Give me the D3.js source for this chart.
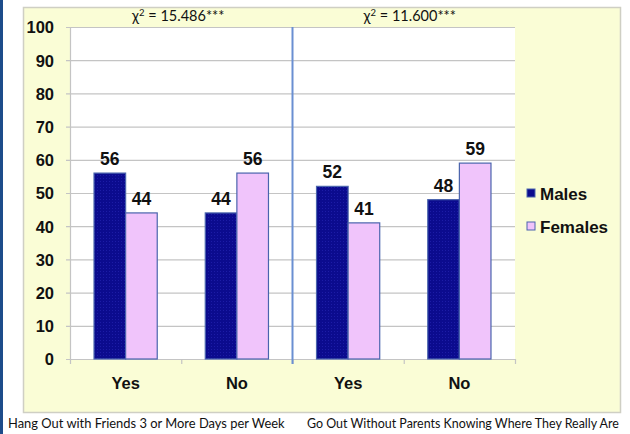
<!DOCTYPE html>
<html><head><meta charset="utf-8">
<script src="https://cdn.jsdelivr.net/npm/d3@7"></script>
<style>html,body{margin:0;padding:0;background:#fff;}svg{display:block;}</style>
</head><body>
<svg id="c" width="630" height="434"></svg>
<script>
const categories = ["Yes", "No", "Yes", "No"];
const males = [56, 44, 52, 48];
const females = [44, 56, 41, 59];
const seriesNames = ["Males", "Females"];
const yTicks = [0, 10, 20, 30, 40, 50, 60, 70, 80, 90, 100];
const chiLabels = ["χ² = 15.486***", "χ² = 11.600***"];
const groupLabels = ["Hang Out with Friends 3 or More Days per Week", "Go Out Without Parents Knowing Where They Really Are"];

const svg = d3.select("#c");
const boldFont = "Liberation Sans, Arial, sans-serif";
const lightFont = "Lato, Carlito, Calibri, sans-serif";

// left strip
svg.append("rect").attr("x", 0).attr("y", 0).attr("width", 3).attr("height", 434).attr("fill", "#1d4c8a");
// chart background
svg.append("rect").attr("x", 23.5).attr("y", 7.5).attr("width", 597).attr("height", 405)
  .attr("fill", "#fafdd6").attr("stroke", "#cfcfc4").attr("stroke-width", 1.5);

const plot = {l: 70, r: 515, t: 27, b: 359};
svg.append("rect").attr("x", plot.l).attr("y", plot.t).attr("width", plot.r - plot.l).attr("height", plot.b - plot.t).attr("fill", "#fff");

const y = d3.scaleLinear().domain([0, 100]).range([plot.b, plot.t]);
const idx = d3.range(categories.length);
const x = d3.scaleBand().domain(idx).range([plot.l, plot.r]).paddingInner(0).paddingOuter(0);
const xs = d3.scaleBand().domain(seriesNames).range([0, x.bandwidth()]).paddingInner(0).paddingOuter(0.76);

// gridlines
svg.append("g").selectAll("line").data(yTicks).join("line")
  .attr("x1", plot.l - 4).attr("x2", plot.r)
  .attr("y1", d => y(d) + 0.5).attr("y2", d => y(d) + 0.5)
  .attr("stroke", "#c4c4c4").attr("stroke-width", 1.2);

// y axis
const yAxis = d3.axisLeft(y).tickValues(yTicks).tickSize(0).tickPadding(16);
const gy = svg.append("g").attr("transform", `translate(${plot.l},0)`).call(yAxis);
gy.select(".domain").attr("stroke", "#c4c4c4").attr("stroke-width", 1.2);
gy.selectAll("text").attr("font-family", boldFont).attr("font-weight", "bold").attr("font-size", "16.5px").attr("fill", "#111").attr("dy", "0.36em");

// x axis
const xAxis = d3.axisBottom(x).tickFormat(i => categories[i]).tickSize(0).tickPadding(18);
const gx = svg.append("g").attr("transform", `translate(0,${plot.b})`).call(xAxis);
gx.select(".domain").attr("stroke", "#c4c4c4").attr("stroke-width", 1.2);
gx.selectAll("text").attr("font-family", boldFont).attr("font-weight", "bold").attr("font-size", "16.5px").attr("fill", "#111");
// category boundary ticks
svg.append("g").selectAll("line").data(idx.concat([categories.length])).join("line")
  .attr("x1", i => (i < categories.length ? x(i) : plot.r) + 0.5)
  .attr("x2", i => (i < categories.length ? x(i) : plot.r) + 0.5)
  .attr("y1", plot.b).attr("y2", plot.b + 5)
  .attr("stroke", "#c4c4c4").attr("stroke-width", 1.2);

// pattern for male bars
const defs = svg.append("defs");
const pat = defs.append("pattern").attr("id", "dots").attr("width", 3).attr("height", 3).attr("patternUnits", "userSpaceOnUse");
pat.append("rect").attr("width", 3).attr("height", 3).attr("fill", "#0b0b8e");
pat.append("rect").attr("x", 1).attr("y", 1).attr("width", 1).attr("height", 1).attr("fill", "#1c1ca6");

const colors = {Males: "url(#dots)", Females: "#f0c4fb"};
const data = [];
idx.forEach(i => {
  data.push({i, s: "Males", v: males[i]});
  data.push({i, s: "Females", v: females[i]});
});

svg.append("g").selectAll("rect").data(data).join("rect")
  .attr("x", d => x(d.i) + xs(d.s))
  .attr("y", d => y(d.v))
  .attr("width", xs.bandwidth())
  .attr("height", d => y(0) - y(d.v))
  .attr("fill", d => colors[d.s])
  .attr("stroke", "#4a64ad").attr("stroke-width", 1.2);

// value labels
svg.append("g").selectAll("text").data(data).join("text")
  .attr("x", d => x(d.i) + xs(d.s) + xs.bandwidth() / 2)
  .attr("y", d => y(d.v) - 8)
  .attr("text-anchor", "middle")
  .attr("font-family", boldFont).attr("font-weight", "bold").attr("font-size", "17.5px").attr("fill", "#111")
  .text(d => d.v);

// divider line
svg.append("line").attr("x1", x(2)).attr("x2", x(2)).attr("y1", plot.t).attr("y2", plot.b + 5)
  .attr("stroke", "#6a8fd2").attr("stroke-width", 2);

// chi-square labels
const chiX = [(x(0) + x(2)) / 2 - 3, (x(2) + plot.r) / 2 + 6];
chiLabels.forEach((t, k) => {
  const parts = t.split("²");
  const txt = svg.append("text").attr("x", chiX[k]).attr("y", 21).attr("text-anchor", "middle")
    .attr("font-family", lightFont).attr("font-size", "14.5px").attr("fill", "#111");
  txt.append("tspan").text(parts[0]);
  txt.append("tspan").attr("dy", -5).attr("font-size", "9.5px").text("2");
  txt.append("tspan").attr("dy", 5).text(parts[1]);
});

// group labels (font size fitted to the reference widths)
const gX = [8, 307];
const gW = [277, 312];
groupLabels.forEach((t, k) => {
  const el = svg.append("text").attr("x", gX[k]).attr("y", 428)
    .attr("font-family", lightFont).attr("font-size", "13px").attr("fill", "#111").text(t);
  const w = el.node().getComputedTextLength();
  if (w > 0) el.attr("font-size", (13 * gW[k] / w).toFixed(2) + "px");
});

// legend
const legY = [193, 226];
const leg = svg.append("g");
seriesNames.forEach((s, k) => {
  leg.append("rect").attr("x", 527).attr("y", legY[k] - 4).attr("width", 8).attr("height", 8)
    .attr("fill", s === "Males" ? "#0b0b8e" : "#f0c4fb").attr("stroke", "#4a64ad").attr("stroke-width", 1);
  leg.append("text").attr("x", 540).attr("y", legY[k] + 6.5)
    .attr("font-family", boldFont).attr("font-weight", "bold").attr("font-size", "17px").attr("fill", "#111").text(s);
});
</script>
</body></html>
